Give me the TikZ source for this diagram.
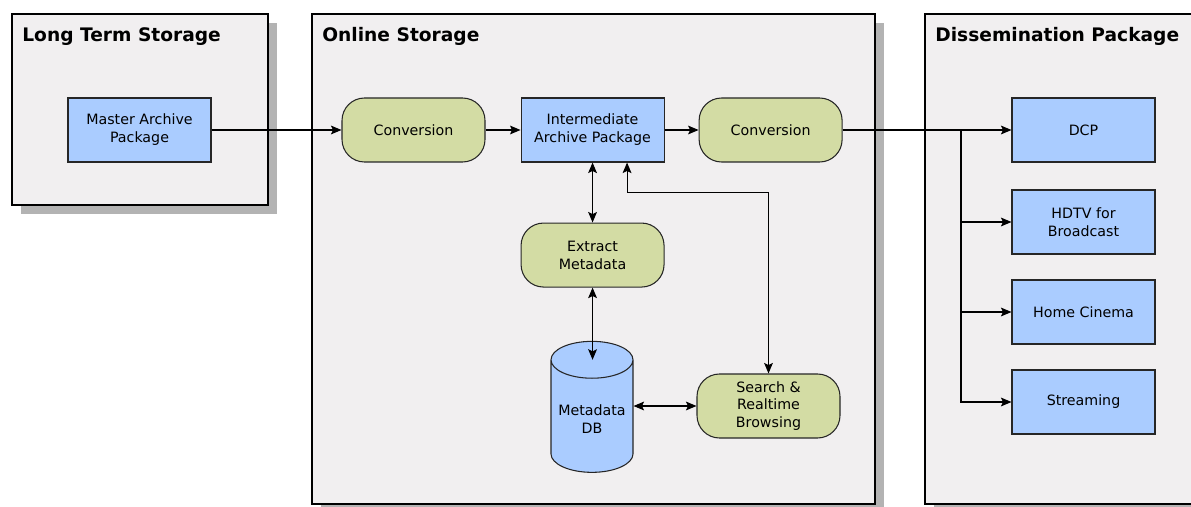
\documentclass[tikz,border=0pt]{standalone}
\usepackage{fontspec}
\setmainfont{DejaVu Sans}
\usetikzlibrary{shapes.geometric, arrows.meta, positioning, calc, shadows}
\definecolor{PanelGray}{HTML}{F1EFF0}
\definecolor{ShadowGray}{HTML}{B3B3B3}
\definecolor{PackBlue}{HTML}{AACCFF}
\definecolor{ProcGreen}{HTML}{D3DCA4}
\tikzset{
    panel/.style={rectangle, draw=black, line width=1.4pt, fill=PanelGray,
        outer sep=0pt, drop shadow={shadow xshift=0.18cm, shadow yshift=-0.19cm,
        fill=ShadowGray, opacity=1}},
    paneltitle/.style={anchor=base west, inner sep=0pt,
        font=\fontsize{10.6}{12}\selectfont\bfseries},
    pkgbox/.style={rectangle, draw=black!85, line width=0.6pt, fill=PackBlue,
        minimum width=2.86cm, minimum height=1.28cm, inner sep=1pt,
        align=center, font=\fontsize{8.1}{10.2}\selectfont},
    procbox/.style={pkgbox, rounded corners=0.45cm, fill=ProcGreen},
    dbbox/.style={cylinder, shape border rotate=90, aspect=0.52, draw=black!85,
        line width=0.6pt, fill=PackBlue, minimum width=1.64cm, minimum height=2.62cm,
        inner sep=1pt, align=center, font=\fontsize{8.1}{10.2}\selectfont},
    conn/.style={-{Stealth[length=6pt, width=5pt, inset=1.2pt]}, line width=0.6pt},
    biconn/.style={{Stealth[length=6pt, width=5pt, inset=1.2pt]}-{Stealth[length=6pt, width=5pt, inset=1.2pt]},
        line width=0.6pt}
}
\begin{document}
\begin{tikzpicture}
    \useasboundingbox (0,0) rectangle (23.82,-10.14);

    % Storage panels
    \node[panel, minimum width=5.12cm, minimum height=3.82cm] (lts) at (2.8,-2.19) {};
    \node[panel, minimum width=11.26cm, minimum height=9.8cm] (online) at (11.87,-5.18) {};
    \node[panel, minimum width=5.6cm, minimum height=9.8cm] (dissem) at (21.3,-5.18) {};
    \foreach \p/\title in {lts/Long Term Storage, online/Online Storage,
                           dissem/Dissemination Package} {
        \node[paneltitle] at ([xshift=0.2cm, yshift=-0.55cm]\p.north west) {\title};
    }

    % Archive chain
    \node[pkgbox] (mast) at (2.79,-2.6) {Master Archive\\Package};
    \node[procbox] (conv1) at (8.27,-2.6) {Conversion};
    \node[pkgbox, right=0.7cm of conv1] (iap) {Intermediate\\Archive Package};
    \node[procbox, right=0.68cm of iap] (conv2) {Conversion};
    \node[procbox, below=1.2cm of iap] (extr) {Extract\\Metadata};
    \node[dbbox] (db) at (11.84,-8.38) {Metadata\\DB};
    \node[procbox] (srch) at (15.37,-8.12) {Search \&\\Realtime\\Browsing};

    % Output formats
    \node[pkgbox] (dcp) at (21.67,-2.6) {DCP};
    \node[pkgbox] (hdtv) at (21.67,-4.44) {HDTV for\\Broadcast};
    \node[pkgbox] (home) at (21.67,-6.24) {Home Cinema};
    \node[pkgbox] (strm) at (21.67,-8.04) {Streaming};

    % Connectors
    \draw[conn] (mast) -- (conv1);
    \draw[conn] (conv1) -- (iap);
    \draw[conn] (iap) -- (conv2);
    \draw[biconn] (iap) -- (extr);
    \coordinate (dbcap) at ($(db.before top)!0.5!(db.after top)$);
    \draw[biconn] (extr) -- (extr |- dbcap);
    \draw[biconn] (db.east |- srch) -- (srch);
    \draw[biconn] ([xshift=0.69cm]iap.south) -- ++(0,-0.6) -| (srch.north);

    \draw[conn] (conv2) -- (dcp);
    \coordinate (fork) at (19.22,-2.6);
    \foreach \t in {hdtv, home, strm} {
        \draw[conn] (fork) |- (\t.west);
    }
\end{tikzpicture}
\end{document}
